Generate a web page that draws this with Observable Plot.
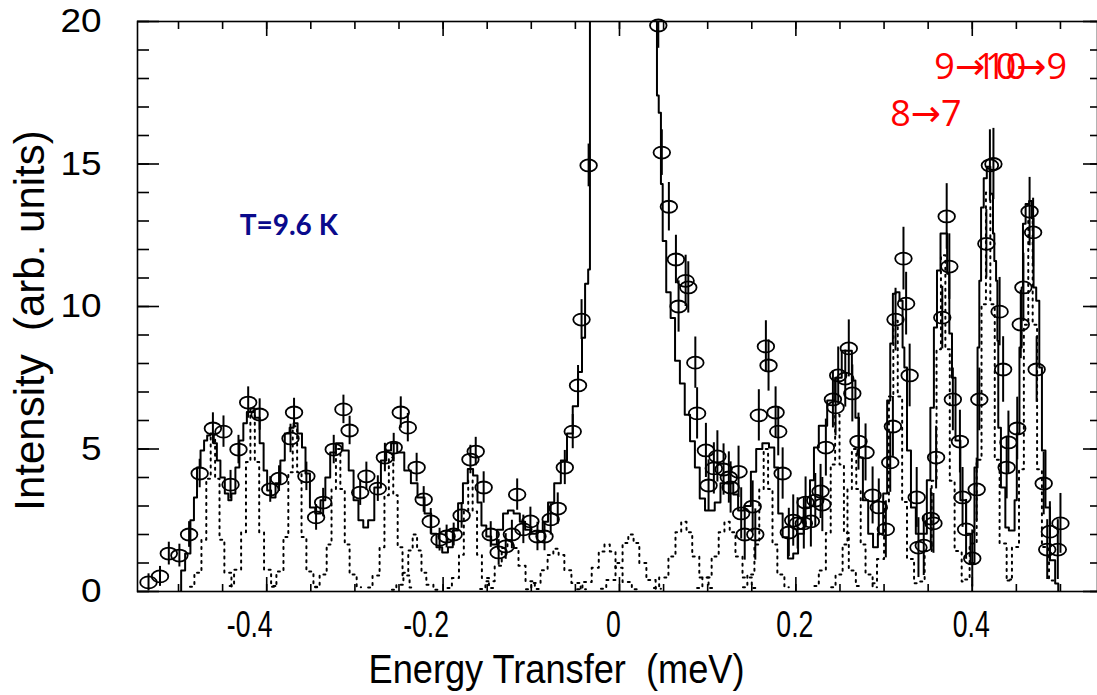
<!DOCTYPE html>
<html><head><meta charset="utf-8">
<script src="https://cdn.jsdelivr.net/npm/d3@7"></script>
<script src="https://cdn.jsdelivr.net/npm/@observablehq/plot@0.6"></script>
<style>body{margin:0;background:#fff;} #chart svg{display:block;}</style>
</head><body><div id="chart"></div>
<script>
// ---- tick values ----
const xTickLabels = [-0.4, -0.2, 0, 0.2, 0.4];
const xMinorTicks = [-0.5,-0.45,-0.4,-0.35,-0.3,-0.25,-0.2,-0.15,-0.1,-0.05,0,0.05,0.1,0.15,0.2,0.25,0.3,0.35,0.4,0.45,0.5];
const yTickLabels = [0, 5, 10, 15, 20];
const yMinorTicks = [0,1,2,3,4,5,6,7,8,9,10,11,12,13,14,15,16,17,18,19,20];

// ---- measured points: energy (meV), intensity, error ----
const energy = [-0.534,-0.521,-0.511,-0.499,-0.488,-0.476,-0.461,-0.449,-0.441,-0.432,-0.421,-0.408,-0.396,-0.386,-0.373,-0.369,-0.355,-0.344,-0.336,-0.324,-0.313,-0.306,-0.294,-0.287,-0.274,-0.266,-0.256,-0.248,-0.240,-0.230,-0.222,-0.214,-0.204,-0.196,-0.188,-0.179,-0.169,-0.163,-0.154,-0.146,-0.137,-0.129,-0.122,-0.116,-0.109,-0.101,-0.093,-0.085,-0.078,-0.070,-0.062,-0.053,-0.047,-0.043,-0.035,0.044,0.048,0.056,0.064,0.067,0.075,0.078,0.086,0.088,0.098,0.101,0.107,0.111,0.118,0.124,0.126,0.135,0.138,0.142,0.151,0.154,0.158,0.166,0.169,0.177,0.180,0.185,0.192,0.197,0.202,0.209,0.211,0.217,0.222,0.228,0.230,0.234,0.242,0.245,0.248,0.256,0.260,0.264,0.271,0.279,0.287,0.294,0.302,0.307,0.310,0.313,0.322,0.325,0.329,0.337,0.339,0.345,0.353,0.356,0.359,0.366,0.371,0.374,0.378,0.386,0.389,0.393,0.400,0.405,0.408,0.416,0.420,0.424,0.431,0.435,0.439,0.441,0.451,0.455,0.458,0.465,0.469,0.473,0.481,0.485,0.488,0.497,0.500];
const intensity = [0.32,0.53,1.33,1.26,2.0,4.14,5.72,5.61,3.75,4.98,6.63,6.21,3.58,3.96,5.37,6.28,4.04,2.6,3.12,4.98,6.39,5.65,3.47,4.04,3.61,4.7,5.05,6.28,5.75,4.35,3.23,2.46,1.82,1.93,2.0,2.67,4.63,4.91,3.65,2.0,1.37,1.58,2.0,3.4,2.18,2.46,1.93,1.93,2.53,2.91,4.35,5.61,7.23,9.54,14.95,19.86,15.4,13.5,11.65,10.0,10.9,10.67,8.03,6.25,4.95,3.72,4.32,4.74,4.28,4.0,3.65,4.2,2.74,2.0,2.98,2.0,6.18,8.6,7.93,6.28,5.61,4.14,2.07,2.49,2.39,2.39,3.12,2.46,3.19,3.51,3.05,5.05,6.74,6.46,7.58,7.47,8.53,6.95,5.26,4.88,3.37,2.95,2.18,4.53,5.79,9.54,11.68,10.1,7.58,3.3,1.54,1.61,2.56,2.39,4.7,9.61,13.16,11.4,6.74,5.26,3.3,2.18,1.16,3.58,6.74,12.2,14.95,15.0,9.82,7.79,4.35,5.23,5.72,9.37,10.67,13.33,12.6,7.79,3.79,1.47,2.1,1.47,2.39];
const errors = [0.3,0.35,0.4,0.4,0.45,0.5,0.55,0.55,0.5,0.5,0.55,0.55,0.45,0.45,0.5,0.5,0.5,0.45,0.5,0.5,0.5,0.5,0.45,0.5,0.45,0.5,0.5,0.55,0.5,0.5,0.45,0.45,0.4,0.4,0.4,0.45,0.5,0.5,0.55,0.45,0.45,0.45,0.5,0.55,0.5,0.5,0.5,0.5,0.55,0.55,0.6,0.6,0.7,0.7,0.75,0.8,0.8,0.85,0.85,0.9,0.9,0.9,0.9,0.9,0.95,0.9,0.9,0.9,0.9,0.9,0.9,0.9,0.9,0.9,0.9,0.9,0.9,0.9,0.9,0.9,0.85,0.9,0.85,0.9,0.9,0.9,0.9,0.9,0.95,0.95,0.95,1.0,1.0,1.0,1.0,1.0,1.0,1.0,1.0,1.0,1.0,1.0,1.0,1.05,1.05,1.1,1.1,1.1,1.1,1.05,1.05,1.05,1.05,1.05,1.1,1.1,1.15,1.15,1.1,1.1,1.05,1.05,1.0,1.1,1.1,1.2,1.25,1.25,1.2,1.15,1.1,1.1,1.1,1.2,1.2,1.2,1.2,1.15,1.1,1.05,1.05,1.05,1.05];

// ---- fitted total (step line) ----
const fitCurve = [[-0.498,0],[-0.496,0.74],[-0.489,1.33],[-0.484,2.5],[-0.481,3.3],[-0.477,4.35],[-0.473,4.95],[-0.469,5.3],[-0.466,5.47],[-0.462,5.54],[-0.458,5.2],[-0.455,4.6],[-0.450,4.0],[-0.445,3.44],[-0.442,3.2],[-0.438,3.44],[-0.433,4.35],[-0.429,5.3],[-0.424,5.9],[-0.421,6.3],[-0.416,6.42],[-0.411,6.1],[-0.405,5.2],[-0.402,4.25],[-0.397,3.54],[-0.393,3.3],[-0.387,3.8],[-0.382,4.6],[-0.377,5.54],[-0.371,5.75],[-0.368,5.9],[-0.362,5.54],[-0.358,5.05],[-0.354,4.14],[-0.348,2.95],[-0.342,2.74],[-0.336,3.2],[-0.331,4.0],[-0.325,4.88],[-0.318,5.2],[-0.310,4.95],[-0.304,4.25],[-0.299,3.2],[-0.293,2.5],[-0.288,2.25],[-0.282,2.5],[-0.274,3.65],[-0.267,4.6],[-0.262,4.95],[-0.256,5.2],[-0.248,4.88],[-0.240,4.25],[-0.233,3.8],[-0.225,3.3],[-0.217,2.74],[-0.210,2.03],[-0.205,1.55],[-0.197,1.37],[-0.192,1.55],[-0.186,2.14],[-0.180,3.1],[-0.175,3.8],[-0.169,4.3],[-0.163,4.07],[-0.159,3.12],[-0.154,2.32],[-0.148,1.93],[-0.143,1.65],[-0.135,2.17],[-0.129,2.74],[-0.124,2.84],[-0.116,2.74],[-0.110,2.45],[-0.104,2.17],[-0.098,2.03],[-0.090,2.1],[-0.084,2.45],[-0.078,3.12],[-0.070,3.8],[-0.063,4.6],[-0.056,5.54],[-0.050,6.5],[-0.044,7.7],[-0.041,8.9],[-0.037,10.8],[-0.034,11.3],[-0.033,40],[0.042,40],[0.043,17.4],[0.046,16.8],[0.048,14.3],[0.050,12.3],[0.056,10.5],[0.060,9.6],[0.066,8.1],[0.071,7.3],[0.077,6.2],[0.083,5.27],[0.088,4.35],[0.094,3.26],[0.100,2.84],[0.105,2.84],[0.111,3.12],[0.118,3.8],[0.126,3.8],[0.132,3.4],[0.137,2.84],[0.146,3.0],[0.152,4.2],[0.158,5.0],[0.166,5.2],[0.173,5.05],[0.178,4.35],[0.182,2.74],[0.188,1.9],[0.194,1.16],[0.200,1.33],[0.205,2.03],[0.213,2.95],[0.219,3.9],[0.222,5.05],[0.230,5.82],[0.241,6.7],[0.248,7.5],[0.256,8.45],[0.262,8.45],[0.265,7.4],[0.270,6.1],[0.273,4.7],[0.279,3.2],[0.285,2.03],[0.290,1.55],[0.296,2.03],[0.302,3.44],[0.305,6.7],[0.309,8.7],[0.311,10.45],[0.315,10.5],[0.320,10.2],[0.322,8.56],[0.324,7.86],[0.328,4.95],[0.333,2.95],[0.339,2.03],[0.347,2.03],[0.350,3.9],[0.355,6.45],[0.358,9.26],[0.362,11.26],[0.366,12.56],[0.370,12.56],[0.373,11.15],[0.375,9.05],[0.379,7.5],[0.383,5.3],[0.390,3.2],[0.396,2.03],[0.400,1.0],[0.405,4.35],[0.407,8.56],[0.409,10.9],[0.411,13.47],[0.415,14.5],[0.418,14.9],[0.423,13.96],[0.424,12.56],[0.426,11.6],[0.428,10.9],[0.429,8.8],[0.430,5.75],[0.435,3.65],[0.440,2.25],[0.443,2.14],[0.447,2.14],[0.449,3.2],[0.452,5.54],[0.455,8.56],[0.457,10.67],[0.458,12.9],[0.463,13.6],[0.466,13.7],[0.469,13.1],[0.470,10.67],[0.475,10.2],[0.477,7.86],[0.481,4.95],[0.485,2.95],[0.491,1.1],[0.497,0.28],[0.498,0]];

// ---- individual fitted components (dotted) ----
const compA = [[-0.487,0.17],[-0.477,0.66],[-0.471,1.82],[-0.466,3.96],[-0.461,5.5],[-0.456,3.96],[-0.451,1.82],[-0.445,0.66],[-0.435,0.17]];
const compB = [[-0.442,0.19],[-0.432,0.76],[-0.426,2.08],[-0.421,4.54],[-0.416,6.3],[-0.411,4.54],[-0.406,2.08],[-0.400,0.76],[-0.390,0.19]];
const compC = [[-0.394,0.17],[-0.384,0.70],[-0.378,1.91],[-0.373,4.18],[-0.368,5.8],[-0.363,4.18],[-0.358,1.91],[-0.352,0.70],[-0.342,0.17]];
const compD = [[-0.345,0.15],[-0.335,0.6],[-0.329,1.65],[-0.324,3.6],[-0.319,5.0],[-0.314,3.6],[-0.309,1.65],[-0.303,0.6],[-0.293,0.15]];
const compG = [[-0.285,0.14],[-0.275,0.56],[-0.269,1.55],[-0.264,3.38],[-0.259,4.7],[-0.254,3.38],[-0.249,1.55],[-0.243,0.56],[-0.233,0.14]];
const compH = [[-0.258,0.06],[-0.248,0.24],[-0.242,0.66],[-0.237,1.44],[-0.232,2.0],[-0.227,1.44],[-0.222,0.66],[-0.216,0.24],[-0.206,0.06]];
const compJ = [[-0.195,0.12],[-0.185,0.47],[-0.179,1.29],[-0.174,2.81],[-0.169,3.9],[-0.164,2.81],[-0.159,1.29],[-0.153,0.47],[-0.143,0.12]];
const compK = [[-0.158,0.09],[-0.146,0.36],[-0.137,0.9],[-0.130,1.53],[-0.124,1.8],[-0.118,1.53],[-0.111,0.9],[-0.102,0.36],[-0.090,0.09]];
const compL = [[-0.106,0.08],[-0.094,0.30],[-0.085,0.75],[-0.078,1.28],[-0.072,1.5],[-0.066,1.28],[-0.059,0.75],[-0.050,0.30],[-0.038,0.08]];
const compM = [[-0.048,0.08],[-0.036,0.33],[-0.027,0.83],[-0.020,1.40],[-0.014,1.65],[-0.008,1.40],[-0.001,0.83],[0.008,0.33],[0.020,0.08]];
const compN = [[-0.021,0.10],[-0.009,0.40],[0.000,1.0],[0.007,1.70],[0.013,2.0],[0.019,1.70],[0.026,1.0],[0.035,0.40],[0.047,0.10]];
const compO = [[0.039,0.12],[0.051,0.49],[0.060,1.23],[0.067,2.08],[0.073,2.45],[0.079,2.08],[0.086,1.23],[0.095,0.49],[0.107,0.12]];
const compP = [[0.088,0.12],[0.100,0.49],[0.109,1.23],[0.116,2.08],[0.122,2.45],[0.128,2.08],[0.135,1.23],[0.144,0.49],[0.156,0.12]];
const compQ = [[0.140,0.15],[0.150,0.6],[0.156,1.65],[0.161,3.6],[0.166,5.0],[0.171,3.6],[0.176,1.65],[0.182,0.6],[0.192,0.15]];
const compR = [[0.221,0.19],[0.231,0.74],[0.237,2.05],[0.242,4.46],[0.247,6.2],[0.252,4.46],[0.257,2.05],[0.263,0.74],[0.273,0.19]];
const compS = [[0.240,0.15],[0.250,0.6],[0.256,1.65],[0.261,3.6],[0.266,5.0],[0.271,3.6],[0.276,1.65],[0.282,0.6],[0.292,0.15]];
const compT = [[0.287,0.29],[0.297,1.14],[0.303,3.14],[0.308,6.84],[0.313,9.5],[0.318,6.84],[0.323,3.14],[0.329,1.14],[0.339,0.29]];
const compU = [[0.341,0.35],[0.351,1.42],[0.357,3.89],[0.362,8.5],[0.367,11.8],[0.372,8.5],[0.377,3.89],[0.383,1.42],[0.393,0.35]];
const compV = [[0.392,0.42],[0.402,1.68],[0.408,4.62],[0.413,10.08],[0.418,14.0],[0.423,10.08],[0.428,4.62],[0.434,1.68],[0.444,0.42]];
const compW = [[0.440,0.39],[0.450,1.56],[0.456,4.29],[0.461,9.36],[0.466,13.0],[0.471,9.36],[0.476,4.29],[0.482,1.56],[0.492,0.39]];

// ---- build tables ----
const points = energy.map((e, i) => ({e, v: intensity[i], err: errors[i]}));
const fit = fitCurve.map(([e, v]) => ({e, v}));
const components = [compA,compB,compC,compD,compG,compH,compJ,compK,compL,compM,compN,compO,compP,compQ,compR,compS,compT,compU,compV,compW]
  .flatMap((c, k) => c.map(([e, v]) => ({e, v, id: k})));

// ellipse marker (open)
const ellipse = {
  draw(ctx) {
    const rx = 8.3, ry = 6.0, k = 0.5523;
    ctx.moveTo(rx, 0);
    ctx.bezierCurveTo(rx, ry*k, rx*k, ry, 0, ry);
    ctx.bezierCurveTo(-rx*k, ry, -rx, ry*k, -rx, 0);
    ctx.bezierCurveTo(-rx, -ry*k, -rx*k, -ry, 0, -ry);
    ctx.bezierCurveTo(rx*k, -ry, rx, -ry*k, rx, 0);
    ctx.closePath();
  }
};

const sans = "Liberation Sans, Arial, sans-serif";
const redFont = "Open Sans, DejaVu Sans, sans-serif";
const fmt = d => String(d);

const chart = Plot.plot({
  width: 1097,
  height: 695,
  marginLeft: 137,
  marginRight: 0,
  marginTop: 21,
  marginBottom: 104,
  style: {fontFamily: sans, background: "#fff", color: "#000", overflow: "visible"},
  x: {domain: [-0.5465, 0.542], label: null},
  y: {domain: [0, 20], label: null},
  marks: [
    Plot.line(components, {x: "e", y: "v", z: "id", curve: "step", stroke: "#000", strokeWidth: 2, strokeDasharray: "2,5", clip: true}),
    Plot.line(fit, {x: "e", y: "v", curve: "step", stroke: "#000", strokeWidth: 2, clip: true}),
    Plot.ruleX(points, {x: "e", y1: d => d.v - d.err, y2: d => d.v + d.err, stroke: "#000", strokeWidth: 2, clip: true}),
    Plot.dot(points, {x: "e", y: "v", symbol: ellipse, r: 6, fill: "none", stroke: "#000", strokeWidth: 1.8}),
    Plot.frame({stroke: "#000", strokeWidth: 1.6}),
    // inward ticks
    Plot.axisX(xMinorTicks, {anchor: "bottom", tickSize: 7, dy: -7, tickFormat: () => "", label: null, strokeWidth: 1.6}),
    Plot.axisX(xTickLabels, {anchor: "bottom", tickSize: 14, dy: -14, tickFormat: () => "", label: null, strokeWidth: 1.6}),
    Plot.axisX(xMinorTicks, {anchor: "top", tickSize: 7, dy: 7, tickFormat: () => "", label: null, strokeWidth: 1.6}),
    Plot.axisX(xTickLabels, {anchor: "top", tickSize: 14, dy: 14, tickFormat: () => "", label: null, strokeWidth: 1.6}),
    Plot.axisY(yMinorTicks, {anchor: "left", tickSize: 12, dx: 12, tickFormat: () => "", label: null, strokeWidth: 1.6}),
    Plot.axisY(yTickLabels, {anchor: "left", tickSize: 22, dx: 22, tickFormat: () => "", label: null, strokeWidth: 1.6}),
    Plot.axisY(yMinorTicks, {anchor: "right", tickSize: 8, dx: -8, tickFormat: () => "", label: null, strokeWidth: 1.6}),
    Plot.axisY(yTickLabels, {anchor: "right", tickSize: 15, dx: -15, tickFormat: () => "", label: null, strokeWidth: 1.6}),
    // tick labels
    Plot.axisY(yTickLabels, {anchor: "left", tickSize: 0, tickPadding: 36, fontSize: 33, fontFamily: sans, label: null, tickFormat: fmt}),
    Plot.axisX(xTickLabels.filter(d => d < 0), {anchor: "bottom", tickSize: 0, tickPadding: 19, dx: -17, fontSize: 37, fontFamily: sans, label: null, tickFormat: fmt}),
    Plot.axisX(xTickLabels.filter(d => d === 0), {anchor: "bottom", tickSize: 0, tickPadding: 19, dx: -6, fontSize: 37, fontFamily: sans, label: null, tickFormat: fmt}),
    Plot.axisX(xTickLabels.filter(d => d > 0), {anchor: "bottom", tickSize: 0, tickPadding: 19, dx: -1, fontSize: 37, fontFamily: sans, label: null, tickFormat: fmt}),
    // axis titles
    Plot.text(["Intensity  (arb. units)"], {frameAnchor: "left", textAnchor: "middle", lineAnchor: "middle", dx: -107, dy: 14, rotate: -90, text: d => d, fontSize: 42, fontFamily: sans, fill: "#000"}),
    Plot.text(["Energy Transfer  (meV)"], {frameAnchor: "bottom", textAnchor: "middle", lineAnchor: "middle", dx: -61, dy: 79, text: d => d, fontSize: 40, fontFamily: sans, fill: "#000"}),
    // annotations
    Plot.text(["T=9.6 K"], {x: -0.375, y: 12.84, text: d => d, fontSize: 28, fontWeight: "bold", fontFamily: "Lato, Open Sans, sans-serif", fill: "#0a0a8c"}),
    Plot.text(["9\u219210"], {x: 0.357, y: 18.4, text: d => d, textAnchor: "start", fontSize: 36, fontFamily: redFont, fill: "#ff0000"}),
    Plot.text(["10\u21929"], {x: 0.4033, y: 18.4, text: d => d, textAnchor: "start", fontSize: 36, fontFamily: redFont, fill: "#ff0000"}),
    Plot.text(["8\u21927"], {x: 0.307, y: 16.75, text: d => d, textAnchor: "start", fontSize: 36, fontFamily: redFont, fill: "#ff0000"})
  ]
});

// condensed / widened glyph shapes as in the reference (scale about each text's own anchor)
function squeeze(nodes, sx) {
  for (const n of nodes) {
    const x = parseFloat(n.getAttribute("x")) || 0;
    const y = parseFloat(n.getAttribute("y")) || 0;
    const t = n.getAttribute("transform") || "";
    n.setAttribute("transform", `${t} translate(${x},${y}) scale(${sx},1) translate(${-x},${-y})`);
  }
}
squeeze(chart.querySelectorAll('g[aria-label="x-axis tick label"] text'), 0.72);
squeeze(chart.querySelectorAll('g[aria-label="y-axis tick label"] text'), 1.12);
squeeze(Array.from(chart.querySelectorAll("text")).filter(t => t.textContent === "Energy Transfer  (meV)"), 0.905);

document.getElementById("chart").appendChild(chart);
</script>
</body></html>
